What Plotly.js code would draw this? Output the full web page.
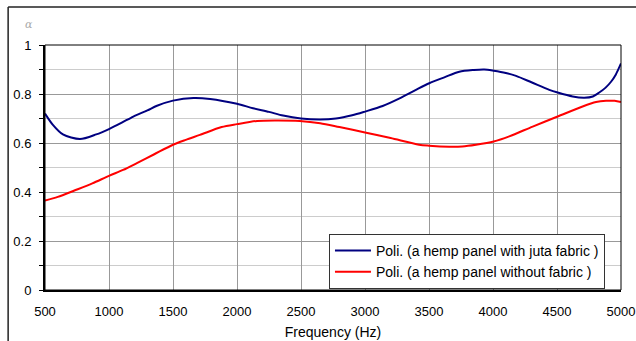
<!DOCTYPE html>
<html><head><meta charset="utf-8">
<script src="https://cdn.plot.ly/plotly-3.0.1.min.js"></script>
<style>html,body{margin:0;padding:0;background:#fff}#chart{width:636px;height:341px}</style>
</head><body><div id="chart"></div>
<script>
const juteFreq = [500, 560, 640, 773, 900, 1000, 1100, 1190, 1300, 1375, 1500, 1660, 1790, 2000, 2125, 2250, 2360, 2500, 2650, 2773, 2900, 3000, 3138, 3270, 3398, 3502, 3620, 3737, 3850, 3932, 4005, 4100, 4180, 4300, 4440, 4505, 4622, 4713, 4780, 4830, 4880, 4922, 4960, 5000];
const juteAlpha = [0.72, 0.675, 0.635, 0.616, 0.635, 0.657, 0.683, 0.708, 0.733, 0.752, 0.773, 0.784, 0.78, 0.76, 0.742, 0.727, 0.712, 0.70, 0.696, 0.70, 0.713, 0.728, 0.751, 0.782, 0.817, 0.844, 0.868, 0.891, 0.898, 0.90, 0.895, 0.886, 0.874, 0.848, 0.817, 0.806, 0.79, 0.785, 0.79, 0.806, 0.826, 0.85, 0.88, 0.925];
const bareFreq = [500, 600, 734, 870, 1000, 1110, 1218, 1350, 1500, 1600, 1710, 1880, 2000, 2156, 2300, 2490, 2650, 2800, 3000, 3200, 3422, 3500, 3658, 3760, 3867, 4005, 4127, 4310, 4505, 4700, 4805, 4883, 4950, 5000];
const bareAlpha = [0.365, 0.38, 0.407, 0.435, 0.466, 0.49, 0.518, 0.553, 0.593, 0.613, 0.633, 0.665, 0.677, 0.69, 0.692, 0.69, 0.681, 0.665, 0.643, 0.62, 0.593, 0.589, 0.585, 0.586, 0.593, 0.606, 0.627, 0.667, 0.708, 0.749, 0.767, 0.772, 0.772, 0.767];
const seriesNames = ["Poli. (a hemp panel with juta fabric )", "Poli. (a hemp panel without fabric )"];
const xTicks = [500, 1000, 1500, 2000, 2500, 3000, 3500, 4000, 4500, 5000];
const yTicks = [0, 0.2, 0.4, 0.6, 0.8, 1];
const yTickText = ["0", "0.2", "0.4", "0.6", "0.8", "1"];

const traces = [
  {x: juteFreq, y: juteAlpha, name: seriesNames[0], type: 'scatter', mode: 'lines',
   line: {color: '#000080', width: 2, shape: 'spline', smoothing: 0.8}},
  {x: bareFreq, y: bareAlpha, name: seriesNames[1], type: 'scatter', mode: 'lines',
   line: {color: '#ff0000', width: 2, shape: 'spline', smoothing: 0.8}}
];
const layout = {
  width: 636, height: 341,
  margin: {l: 45, r: 15, t: 45, b: 51},
  paper_bgcolor: '#fff', plot_bgcolor: '#fff',
  font: {family: 'Liberation Sans, Arial, sans-serif', size: 13, color: '#000'},
  showlegend: true,
  legend: {x: 0.493, xanchor: 'left', y: 0.229, yanchor: 'top', bgcolor: '#fff',
    bordercolor: '#333', borderwidth: 1, font: {size: 14, color: '#000'},
    tracegroupgap: 0, itemwidth: 36},
  xaxis: {range: [500, 5000], tickvals: xTicks, ticktext: xTicks.map(String),
    showgrid: true, gridcolor: '#999', gridwidth: 1, zeroline: false,
    showline: true, linecolor: '#000', linewidth: 2, ticks: '', ticklen: 0,
    ticklabelstandoff: 8,
    tickfont: {size: 13}, title: {text: 'Frequency (Hz)', font: {size: 14}, standoff: 10}},
  yaxis: {range: [0, 1], tickvals: yTicks, ticktext: yTickText,
    showgrid: true, gridcolor: '#999', gridwidth: 1, zeroline: false,
    showline: true, linecolor: '#000', linewidth: 2, ticks: 'outside', ticklen: 4, tickcolor: '#000',
    ticklabelstandoff: 5,
    tickfont: {size: 13},
    minor: {dtick: 0.1, showgrid: true, gridcolor: '#ccc', ticks: 'outside', ticklen: 4, tickcolor: '#000'}},
  shapes: [
    {type: 'rect', xref: 'paper', yref: 'paper', x0: 0, x1: 1, y0: 0, y1: 1, line: {color: '#000', width: 1}, layer: 'above'},
    {type: 'line', xref: 'paper', yref: 'paper', x0: -0.064, x1: -0.064, y0: -0.3, y1: 1.155, line: {color: '#222', width: 1.5}},
    {type: 'line', xref: 'paper', yref: 'paper', x0: -0.064, x1: 1.05, y0: 1.155, y1: 1.155, line: {color: '#222', width: 1.5}}
  ],
  annotations: [
    {text: '<i>α</i>', xref: 'paper', yref: 'paper', x: (29 - 45) / 576, y: (290 - 25) / 245,
     showarrow: false, font: {size: 11, color: '#aaa', family: 'DejaVu Serif, serif'}, xanchor: 'center', yanchor: 'middle'}
  ]
};
Plotly.newPlot('chart', traces, layout, {displayModeBar: false, staticPlot: true});
</script></body></html>
